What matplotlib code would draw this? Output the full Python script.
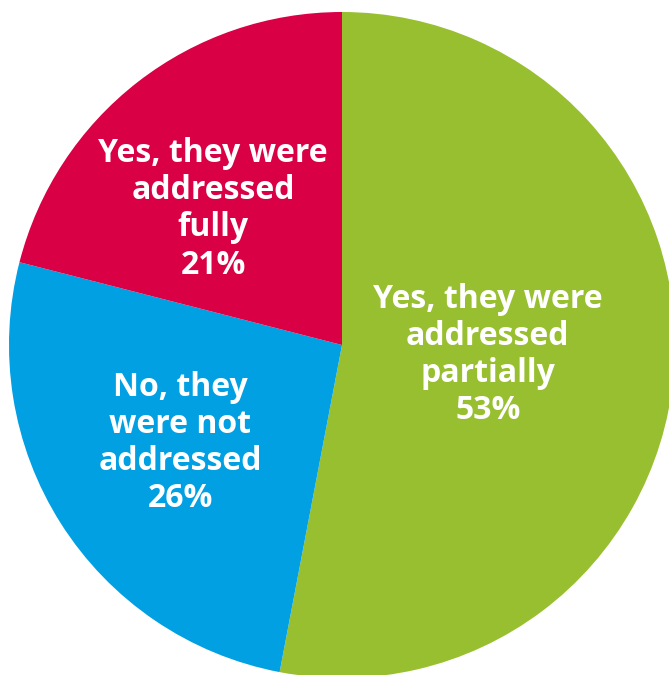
import matplotlib.pyplot as plt

labels = ["Yes, they were\naddressed\npartially", "No, they\nwere not\naddressed", "Yes, they were\naddressed\nfully"]
shares = [53, 26, 21]
colors = ["#98BF30", "#00A0E3", "#D90045"]
# label anchor points (pie data units)
label_xy = [(0.438, -0.03), (-0.486, -0.294), (-0.387, 0.408)]

fig = plt.figure(figsize=(6.69, 6.75), dpi=100)
ax = fig.add_axes([0, 0, 1, 1])
ax.pie(shares, colors=colors, startangle=90, counterclock=False, radius=1,
       wedgeprops=dict(linewidth=0))

for lab, val, (x, y) in zip(labels, shares, label_xy):
    ax.text(x, y, f"{lab}\n{val}%", ha="center", va="center", color="white",
            fontsize=23, fontweight="bold", family="Open Sans", linespacing=1.17)

r = 333.0
ax.set_xlim(-342 / r, (669 - 342) / r)
ax.set_ylim(-(675 - 345) / r, 345 / r)
ax.set_aspect("auto")
ax.axis("off")

fig.savefig("out.png", dpi=100)
